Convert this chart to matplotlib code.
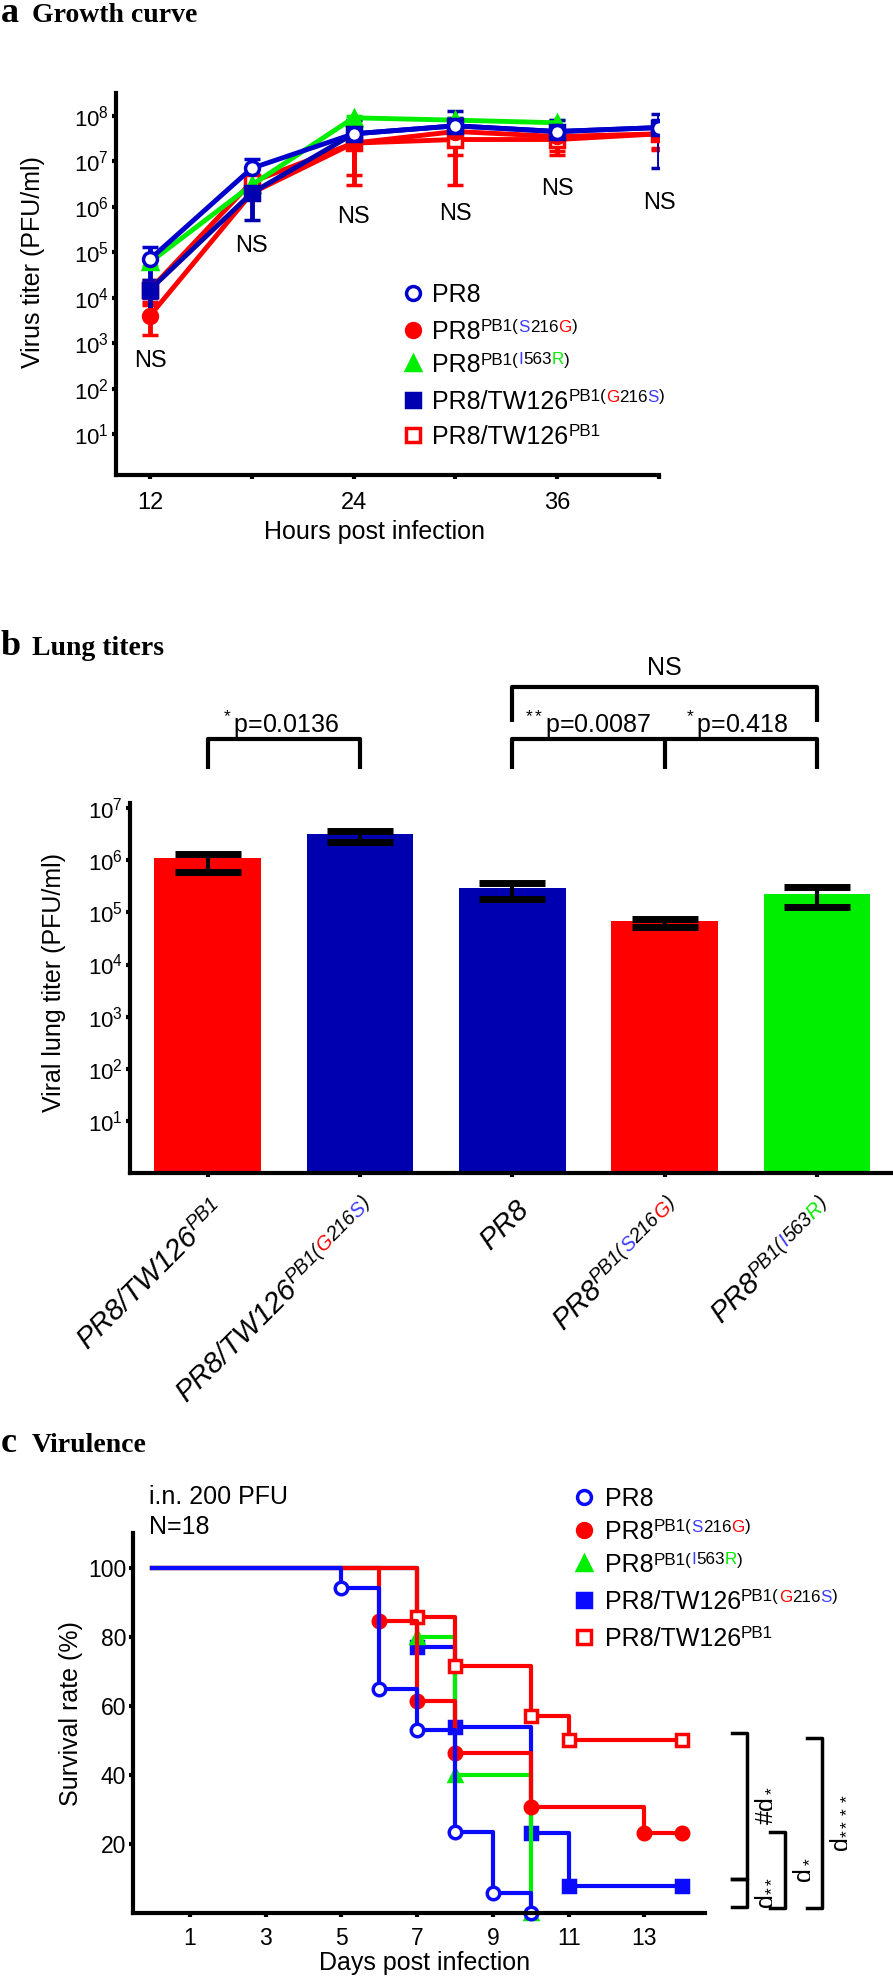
import numpy as np
import matplotlib
matplotlib.use('Agg')
import matplotlib.pyplot as plt
import matplotlib.transforms as mtransforms

plt.rcParams['font.family'] = ['Liberation Sans', 'DejaVu Sans']
plt.rcParams['mathtext.fontset'] = 'custom'
plt.rcParams['mathtext.rm'] = 'Liberation Sans'
plt.rcParams['mathtext.it'] = 'Liberation Sans:italic'

W, H, DPI = 893, 1977, 100
RED = '#ff0000'
GREEN = '#00ee00'
NAVY = '#0000b0'
BLUE = '#0a0aff'
SBLUE = '#3b3bff'

# ---------------- panel a: growth curve ----------------
hours = [12, 18, 24, 30, 36, 42]
hour_labels = ['12', '', '24', '', '36', '']

tw_pb1 = [1.5e4, 3.5e6, 2.5e7, 3.0e7, 3.0e7, 4.0e7]
tw_pb1_lo = [8e3, 2.0e6, 3.0e6, 3.0e6, 1.4e7, 2.0e7]
tw_pb1_hi = [2.5e4, 5.0e6, 3.5e7, 4.0e7, 4.0e7, 5.0e7]

s216g = [4e3, 2.0e6, 2.5e7, 4.5e7, 3.5e7, 4.0e7]
s216g_lo = [1.5e3, 1.5e6, 5.0e6, 1.4e7, 1.7e7, 1.8e7]
s216g_hi = [7e3, 3.0e6, 3.0e7, 6.0e7, 4.5e7, 5.0e7]

i563r = [6e4, 3.0e6, 9.0e7, 8.0e7, 7.0e7, np.nan]
i563r_lo = [5e4, 2.5e6, 8.0e7, 7.0e7, 6.0e7, np.nan]
i563r_hi = [7e4, 3.5e6, 1.0e8, 9.0e7, 8.0e7, np.nan]

g216s = [1.5e4, 2.0e6, 4.0e7, 6.0e7, 4.5e7, 5.5e7]
g216s_lo = [4e3, 5.0e5, 3.0e7, 3.0e7, 2.5e7, 7.0e6]
g216s_hi = [2.5e4, 4.0e6, 8.0e7, 1.3e8, 8.0e7, 1.1e8]

pr8 = [7e4, 7.0e6, 4.0e7, 6.0e7, 4.5e7, 5.5e7]
pr8_lo = [1e4, 5.0e6, 3.0e7, 4.0e7, 3.5e7, 3.0e7]
pr8_hi = [1.3e5, 1.1e7, 5.0e7, 9.0e7, 6.0e7, 8.0e7]

ns_a_y = [400, 1.4e5, 6e5, 7e5, 2.5e6, 1.2e6]

# ---------------- panel b: lung titers ----------------
lung = [1.1e6, 3.2e6, 3.0e5, 6.8e4, 2.3e5]
lung_lo = [6.0e5, 2.2e6, 1.85e5, 5.2e4, 1.25e5]
lung_hi = [1.35e6, 3.6e6, 3.7e5, 7.4e4, 3.1e5]
lung_colors = [RED, NAVY, NAVY, RED, GREEN]

# ---------------- panel c: survival ----------------
days_pr8 = [0, 5, 6, 7, 8, 9, 10]
surv_pr8 = [100, 94.1, 64.7, 52.9, 23.5, 5.9, 0]
days_s216g = [0, 6, 7, 8, 10, 13, 14]
surv_s216g = [100, 84.6, 61.5, 46.2, 30.8, 23.1, 23.1]
days_i563r = [0, 7, 8, 10]
surv_i563r = [100, 80, 40, 0]
days_g216s = [0, 7, 8, 10, 11, 14]
surv_g216s = [100, 76.9, 53.8, 23.1, 7.7, 7.7]
days_tw = [0, 7, 8, 10, 11, 14]
surv_tw = [100, 85.7, 71.4, 57.1, 50, 50]

# (label, top %, bottom %, x of bracket line in px)
sig_brackets = [('#d$_*$', 52.2, 9.9, 747), ('d$_{**}$', 9.9, 1.7, 747),
                ('d$_*$', 23.5, 1.4, 785), ('d$_{****}$', 50.7, 1.4, 822)]

names = [
    [('PR8', 'k', 0)],
    [('PR8', 'k', 0), ('PB1(', 'k', 1), ('S', SBLUE, 1), ('216', 'k', 1), ('G', RED, 1), (')', 'k', 1)],
    [('PR8', 'k', 0), ('PB1(', 'k', 1), ('I', SBLUE, 1), ('563', 'k', 1), ('R', GREEN, 1), (')', 'k', 1)],
    [('PR8/TW126', 'k', 0), ('PB1(', 'k', 1), ('G', RED, 1), ('216', 'k', 1), ('S', SBLUE, 1), (')', 'k', 1)],
    [('PR8/TW126', 'k', 0), ('PB1', 'k', 1)],
]
bar_names = [names[4], names[3], names[0], names[1], names[2]]


def px_axes(fig, left, top, right, bottom):
    return fig.add_axes([left / W, 1 - bottom / H, (right - left) / W, (bottom - top) / H])


def prism(ax, lw=3):
    for s in ['top', 'right']:
        ax.spines[s].set_visible(False)
    for s in ['left', 'bottom']:
        ax.spines[s].set_linewidth(lw)
    ax.tick_params(width=lw, length=3, direction='out')
    ax.minorticks_off()


def rich(ov, x, y, parts, size, rot=0, align='left', style='normal'):
    # pieces of text, some raised, each in its own colour
    r = ov.figure.canvas.get_renderer()
    a = np.deg2rad(rot)
    ux, uy = np.cos(a), -np.sin(a)
    nx, ny = -np.sin(a), -np.cos(a)
    em = size * DPI / 72
    ws = []
    for s, c, sup in parts:
        t = ov.text(0, 0, s, fontsize=size * 0.68 if sup else size, style=style)
        ws.append(t.get_window_extent(r).width)
        t.remove()
    pos = {'left': 0, 'right': -sum(ws), 'center': -sum(ws) / 2}[align]
    for (s, c, sup), w in zip(parts, ws):
        d = 0.3 * em if sup else 0
        ov.text(x + pos * ux + d * nx, y + pos * uy + d * ny, s,
                fontsize=size * 0.68 if sup else size, color=c, style=style,
                rotation=rot, rotation_mode='anchor', ha='left', va='baseline')
        pos += w


fig = plt.figure(figsize=(W / DPI, H / DPI), dpi=DPI)
ov = fig.add_axes([0, 0, 1, 1], zorder=10)
ov.set_xlim(0, W)
ov.set_ylim(H, 0)
ov.axis('off')

def title(x, y, letter, text):
    ov.text(x, y, letter, fontfamily='Liberation Serif', fontweight='bold', fontsize=26, va='baseline')
    ov.text(x + 31, y, text, fontfamily='Liberation Serif', fontweight='bold', fontsize=20, va='baseline')

# ---------- a ----------
title(1, 22, 'a', 'Growth curve')
ax = px_axes(fig, 116, 93, 659, 475)
ax.set_yscale('log')
series = [
    (tw_pb1, tw_pb1_lo, tw_pb1_hi, RED, 's', 'white'),
    (s216g, s216g_lo, s216g_hi, RED, 'o', RED),
    (i563r, i563r_lo, i563r_hi, GREEN, '^', GREEN),
    (g216s, g216s_lo, g216s_hi, NAVY, 's', NAVY),
    (pr8, pr8_lo, pr8_hi, '#0000cc', 'o', 'white'),
]
for v, lo, hi, c, m, fc in series:
    v, lo, hi = np.array(v), np.array(lo), np.array(hi)
    ax.errorbar(hours, v, yerr=[v - lo, hi - v], color=c, lw=3.5, marker=m, ms=10,
                mfc=fc, mec=c, mew=2.5, capsize=6, capthick=3.5, elinewidth=3.5)
for h, yv in zip(hours, ns_a_y):
    ax.text(h, yv, 'NS', ha='center', va='center', fontsize=17)
ax.set_xlim(10, 42)
ax.set_ylim(10 ** 0.1, 10 ** 8.5)
ax.set_yticks([10.0 ** k for k in range(1, 9)])
ax.set_yticklabels([r'$\mathregular{10^{%d}}$' % k for k in range(1, 9)], fontsize=16)
ax.set_xticks(hours)
ax.set_xticklabels(hour_labels, fontsize=17)
prism(ax)
ax.tick_params(axis='x', pad=9)
ax.tick_params(axis='y', pad=2)
ov.text(33, 262, 'Virus titer (PFU/ml)', rotation=90, ha='center', va='center', fontsize=18)
ov.text(375, 532, 'Hours post infection', ha='center', va='center', fontsize=18)

leg_a = [('o', '#0000cc', 'white'), ('o', RED, RED), ('^', GREEN, GREEN), ('s', NAVY, NAVY), ('s', RED, 'white')]
for k, (row_y, (m, c, fc)) in enumerate(zip([293, 330, 363, 400, 435], leg_a)):
    ov.plot([413], [row_y], marker=m, ms=10, mec=c, mfc=fc, mew=2.5, ls='none')
    rich(ov, 432, row_y + 9, names[k], 18)

# ---------- b ----------
title(1, 655, 'b', 'Lung titers')
bx = px_axes(fig, 130, 803, 893, 1173)
bx.set_yscale('log')
xb = np.arange(len(lung))
lung_a = np.array(lung)
bx.bar(xb, lung_a - 1, bottom=1, width=0.7, color=lung_colors)
bx.errorbar(xb, lung_a, yerr=[lung_a - np.array(lung_lo), np.array(lung_hi) - lung_a],
            fmt='none', ecolor='black', elinewidth=3, capsize=24, capthick=5)
bx.set_xlim(-0.51, 4.5)
bx.set_ylim(1, 10 ** 7.1)
bx.set_yticks([10.0 ** k for k in range(1, 8)])
bx.set_yticklabels([r'$\mathregular{10^{%d}}$' % k for k in range(1, 8)], fontsize=16)
bx.set_xticks(xb)
bx.set_xticklabels([])
prism(bx)
bx.tick_params(axis='y', pad=2)
ov.text(54, 982, 'Viral lung titer (PFU/ml)', rotation=90, ha='center', va='center', fontsize=18)

bt = mtransforms.blended_transform_factory(bx.transData, ov.transData)
kw = dict(color='black', lw=3, transform=bt, clip_on=False, solid_capstyle='butt')
ov.plot([0, 0, 1, 1], [769, 739, 739, 769], **kw)
ov.plot([2, 2, 4, 4], [769, 739, 739, 769], **kw)
ov.plot([3, 3], [739, 769], **kw)
ov.plot([2, 2, 4, 4], [722, 687, 687, 722], **kw)
ov.text(0.47, 733, r'$^*$p=0.0136', transform=bt, ha='center', va='baseline', fontsize=18)
ov.text(2.5, 733, r'$^{**}$p=0.0087', transform=bt, ha='center', va='baseline', fontsize=18)
ov.text(3.47, 733, r'$^*$p=0.418', transform=bt, ha='center', va='baseline', fontsize=18)
ov.text(3.0, 668, 'NS', transform=bt, ha='center', va='center', fontsize=18)

for i, parts in enumerate(bar_names):
    cx = bx.transData.transform((xb[i], 1))[0]
    rich(ov, cx + 18, 1211, parts, 21, rot=45, align='right', style='italic')

# ---------- c ----------
title(1, 1452, 'c', 'Virulence')
cx_ = px_axes(fig, 133, 1533, 705, 1913)
curves = [
    (days_g216s, surv_g216s, BLUE, 's', BLUE),
    (days_i563r, surv_i563r, GREEN, '^', GREEN),
    (days_tw, surv_tw, RED, 's', 'white'),
    (days_s216g, surv_s216g, RED, 'o', RED),
    (days_pr8, surv_pr8, BLUE, 'o', 'white'),
]
for d, s, c, m, fc in curves:
    cx_.step(d, s, where='post', color=c, lw=3)
    cx_.plot(d[1:], s[1:], ls='none', marker=m, ms=9, mec=c, mfc=fc, mew=2.5, clip_on=False)
cx_.set_xlim(-0.5, 14.6)
cx_.set_ylim(0, 110)
cx_.set_xticks([1, 3, 5, 7, 9, 11, 13])
cx_.set_yticks([20, 40, 60, 80, 100])
cx_.tick_params(labelsize=16.5)
prism(cx_)
cx_.tick_params(axis='x', pad=7)
cx_.tick_params(axis='y', pad=2)
ov.text(71, 1714, 'Survival rate (%)', rotation=90, ha='center', va='center', fontsize=18)
ov.text(425, 1963, 'Days post infection', ha='center', va='center', fontsize=18)
ov.text(149, 1497, 'i.n. 200 PFU', ha='left', va='center', fontsize=18)
ov.text(149, 1527, 'N=18', ha='left', va='center', fontsize=18)

leg_c = [('o', BLUE, 'white'), ('o', RED, RED), ('^', GREEN, GREEN), ('s', BLUE, BLUE), ('s', RED, 'white')]
for k, (row_y, (m, c, fc)) in enumerate(zip([1497, 1530, 1563, 1600, 1637], leg_c)):
    ov.plot([584], [row_y], marker=m, ms=10, mec=c, mfc=fc, mew=2.5, ls='none')
    rich(ov, 605, row_y + 9, names[k], 18)

ct = mtransforms.blended_transform_factory(ov.transData, cx_.transData)
for lab, top, bot, xl in sig_brackets:
    ov.plot([xl - 15, xl, xl, xl - 15], [top, top, bot, bot], color='black', lw=2.5,
            transform=ct, clip_on=False)
    ov.text(xl + 16, (top + bot) / 2, lab, transform=ct, rotation=90, ha='center',
            va='center', fontsize=18)

fig.savefig('out.png', dpi=DPI)
